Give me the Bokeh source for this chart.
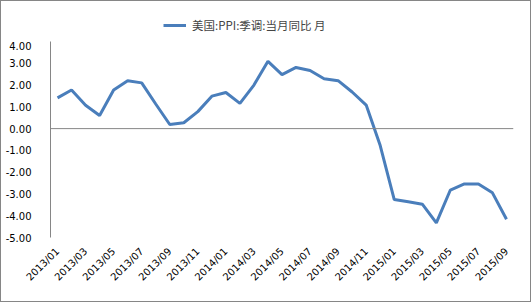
import math
from bokeh.plotting import figure
from bokeh.layouts import column
from bokeh.models import Range1d, FixedTicker, Span, Legend, LegendItem, NumeralTickFormatter
from bokeh.embed import file_html
from bokeh.resources import INLINE

months = ["2013/01","2013/02","2013/03","2013/04","2013/05","2013/06","2013/07","2013/08","2013/09","2013/10","2013/11","2013/12",
          "2014/01","2014/02","2014/03","2014/04","2014/05","2014/06","2014/07","2014/08","2014/09","2014/10","2014/11","2014/12",
          "2015/01","2015/02","2015/03","2015/04","2015/05","2015/06","2015/07","2015/08","2015/09"]
ppi = [1.41, 1.77, 1.07, 0.60, 1.77, 2.20, 2.10, 1.13, 0.19, 0.27, 0.78, 1.49,
       1.66, 1.16, 2.00, 3.09, 2.48, 2.81, 2.67, 2.29, 2.20, 1.68, 1.08, -0.78,
       -3.26, -3.36, -3.47, -4.33, -2.82, -2.54, -2.54, -2.95, -4.16]
series_name = "美国:PPI:季调:当月同比 月"
y_ticks = [-5, -4, -3, -2, -1, 0, 1, 2, 3, 4]

idx = list(range(len(months)))
LINE_COLOR = "#4a7ebb"

# legend strip on top
lf = figure(width=529, height=40, output_backend="svg", toolbar_location=None,
            x_axis_location=None, y_axis_location=None,
            x_range=Range1d(0, 529), y_range=Range1d(0, 40), min_border=0)
lf.grid.visible = False
lf.outline_line_color = None
dummy = lf.line(idx, ppi, line_color=LINE_COLOR, line_width=3)
dummy.visible = False
legend = Legend(items=[LegendItem(label=series_name, renderers=[dummy])],
                orientation="horizontal", location=(113, 8),
                label_text_font="Noto Sans CJK SC", label_text_font_size="11.5px",
                label_height=16, glyph_height=16,
                glyph_width=23, border_line_color=None, background_fill_alpha=0,
                padding=0, margin=0, spacing=0, label_standoff=6)
lf.add_layout(legend)

p = figure(width=529, height=260, output_backend="svg", toolbar_location=None,
           x_range=Range1d(-0.5, len(months) - 0.5), y_range=Range1d(-5, 4),
           min_border_left=49, min_border_right=17, min_border_top=0, min_border_bottom=64)
p.outline_line_color = None
p.background_fill_color = "white"
p.border_fill_color = "white"
p.xgrid.visible = False
p.ygrid.visible = False

p.line(idx, ppi, line_color=LINE_COLOR, line_width=3)

p.add_layout(Span(location=0, dimension="width", line_color="#868686", line_width=1))

xa = p.xaxis[0]
xa.ticker = FixedTicker(ticks=idx[::2])
xa.major_label_overrides = {i: months[i] for i in idx}
xa.major_label_orientation = math.pi / 4
xa.axis_line_color = None
xa.major_tick_line_color = None
xa.minor_tick_line_color = None
xa.major_label_text_font = "DejaVu Sans"
xa.major_label_text_font_size = "10px"
xa.major_label_text_color = "black"
xa.major_label_standoff = 6

ya = p.yaxis[0]
ya.ticker = FixedTicker(ticks=y_ticks)
ya.formatter = NumeralTickFormatter(format="0.00")
ya.axis_line_color = "#868686"
ya.major_tick_line_color = None
ya.minor_tick_line_color = None
ya.major_label_text_font = "DejaVu Sans"
ya.major_label_text_font_size = "10px"
ya.major_label_text_color = "black"
ya.major_label_standoff = 13

layout = column(lf, p, spacing=0)
layout.styles = {"border": "1px solid #868686", "background-color": "white"}

open("out.html", "w").write(file_html(layout, INLINE))
